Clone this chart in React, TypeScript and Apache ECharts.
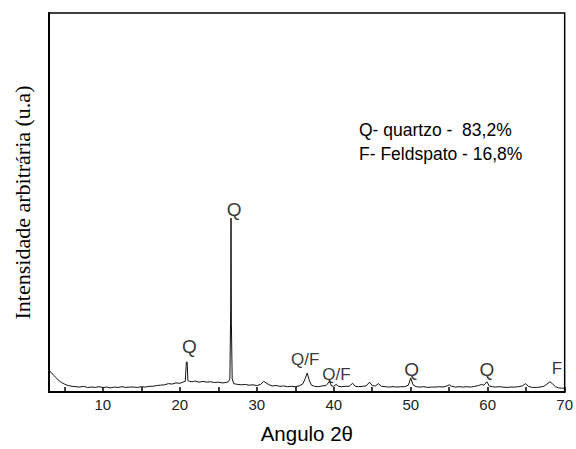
import React, { useEffect, useRef } from "react";
import * as echarts from "echarts";

// 2θ scan (degrees)
const scanAngle = [
  3.0, 3.3, 3.6, 3.9, 4.2, 4.5, 4.8, 5.1, 5.5, 6.0, 6.5, 7.0, 7.5, 8.0, 8.5, 9.0, 9.5,
  10.0, 10.5, 11.0, 11.5, 12.0, 12.5, 13.0, 13.5, 14.0, 14.5, 15.0, 15.5, 16.0, 16.5,
  17.0, 17.5, 18.0, 18.5, 19.0, 19.5, 20.0, 20.4, 20.7, 20.85, 20.95, 21.05, 21.3,
  21.6, 22.0, 22.5, 23.0, 23.5, 24.0, 24.5, 25.0, 25.5, 26.0, 26.3, 26.5, 26.6, 26.65,
  26.7, 26.8, 27.0, 27.5, 28.0, 28.5, 29.0, 29.5, 30.0, 30.5, 30.9, 31.2, 31.6, 32.0,
  32.5, 33.0, 33.5, 34.0, 34.5, 35.0, 35.5, 36.0, 36.3, 36.55, 36.8, 37.1, 37.5, 38.0,
  38.5, 39.0, 39.45, 39.7, 40.0, 40.3, 40.6, 41.0, 41.5, 42.0, 42.45, 42.8, 43.2, 43.7,
  44.2, 44.65, 45.0, 45.4, 45.8, 46.2, 46.7, 47.2, 47.7, 48.2, 48.7, 49.2, 49.7, 50.0,
  50.3, 50.7, 51.2, 51.7, 52.2, 52.7, 53.2, 53.7, 54.2, 54.7, 55.0, 55.3, 55.8, 56.3,
  56.8, 57.3, 57.8, 58.3, 58.8, 59.2, 59.5, 59.9, 60.2, 60.6, 61.0, 61.5, 62.0, 62.5,
  63.0, 63.5, 64.0, 64.5, 64.9, 65.3, 65.8, 66.3, 66.8, 67.3, 67.7, 68.1, 68.4, 68.8,
  69.2, 69.6, 70.0,
];

// Intensity (arbitrary units)
const intensity = [
  5.8, 5.1, 4.4, 3.8, 3.2, 2.7, 2.3, 2.0, 1.7, 1.5, 1.4, 1.3, 1.5, 1.2, 1.3, 1.2, 1.4,
  1.2, 1.3, 1.1, 1.3, 1.2, 1.4, 1.2, 1.3, 1.3, 1.2, 1.4, 1.3, 1.5, 1.5,
  1.7, 1.8, 1.9, 2.2, 2.1, 2.4, 2.3, 2.6, 2.8, 7.9, 7.9, 3.0, 2.8,
  2.7, 2.9, 2.6, 2.8, 2.6, 2.7, 2.5, 2.6, 2.4, 2.5, 2.7, 3.4, 20.0, 45.9,
  18.0, 3.5, 2.2, 2.0, 1.9, 2.0, 1.8, 1.9, 1.7, 2.0, 2.8, 2.4, 1.9, 1.6,
  1.7, 1.5, 1.6, 1.4, 1.5, 1.4, 1.6, 2.2, 3.6, 5.0, 3.2, 1.8, 1.5, 1.4,
  1.6, 1.7, 2.8, 1.6, 1.5, 2.0, 1.5, 1.4, 1.5, 1.5, 2.3, 1.5, 1.4, 1.5,
  1.6, 2.6, 1.7, 1.6, 2.2, 1.5, 1.4, 1.3, 1.4, 1.3, 1.4, 1.4, 1.8, 3.7,
  1.9, 1.4, 1.3, 1.4, 1.2, 1.3, 1.3, 1.4, 1.3, 1.6, 1.9, 1.5, 1.3, 1.4,
  1.3, 1.4, 1.3, 1.5, 1.7, 2.0, 1.8, 2.7, 1.6, 1.4, 1.3, 1.4, 1.3, 1.2,
  1.3, 1.3, 1.4, 1.6, 2.2, 1.5, 1.2, 1.2, 1.3, 1.5, 2.1, 2.7, 2.2, 1.4,
  1.1, 1.0, 1.0,
];

// Phase labels and the peak angles they mark
const peakLabels = ["Q", "Q", "Q/F", "Q/F", "Q", "Q", "F"];
const peakAngles = [20.85, 26.65, 36.55, 39.45, 50.0, 59.9, 68.1];

// Tick values
const xLabelValues = [10, 20, 30, 40, 50, 60, 70];
const xTickValues = [5, 10, 15, 20, 25, 30, 35, 40, 45, 50, 55, 60, 65, 70];

// Composition legend
const legendLines = ["Q- quartzo -  83,2%", "F- Feldspato - 16,8%"];

export default function App() {
  const ref = useRef<HTMLDivElement>(null);

  useEffect(() => {
    if (!ref.current) return;
    const chart = echarts.init(ref.current, undefined, { renderer: "svg" });

    const lineData = scanAngle.map((a, i) => [a, intensity[i]]);
    const peakHeight = (ang: number) => {
      let best = 0;
      scanAngle.forEach((a, i) => {
        if (Math.abs(a - ang) < 0.12 && intensity[i] > best) best = intensity[i];
      });
      return best;
    };
    const labelOffsets: number[][] = [
      [3, -16],
      [3, -9],
      [-2, -14],
      [7, -7],
      [1, -8],
      [0, -12],
      [7, -13],
    ];
    const labelSizes = [19, 19, 17, 17, 19, 19, 17];

    const peakData = peakAngles.map((a, i) => ({
      value: [a, peakHeight(a)],
      label: {
        show: true,
        formatter: peakLabels[i],
        position: "inside",
        offset: labelOffsets[i],
        fontSize: labelSizes[i],
        fontFamily: "Liberation Sans, Arial, sans-serif",
        color: "#000",
      },
    }));

    chart.setOption({
      animation: false,
      grid: {
        left: 49,
        right: 10,
        top: 13,
        bottom: 57,
        show: true,
        borderColor: "#000",
        borderWidth: 1.5,
        backgroundColor: "transparent",
      },
      xAxis: {
        type: "value",
        min: 3,
        max: 70,
        name: "Angulo 2θ",
        nameLocation: "middle",
        nameGap: 31,
        nameTextStyle: {
          fontSize: 20.5,
          fontFamily: "Liberation Sans, Arial, sans-serif",
          color: "#000",
        },
        axisLine: { show: true, onZero: false, lineStyle: { color: "#000", width: 2 } },
        axisTick: {
          show: true,
          inside: true,
          length: 5,
          customValues: xTickValues,
          lineStyle: { color: "#000", width: 1.5 },
        },
        axisLabel: {
          show: true,
          customValues: xLabelValues,
          margin: 5,
          fontSize: 15,
          fontFamily: "Liberation Sans, Arial, sans-serif",
          color: "#222",
        },
        splitLine: { show: false },
      },
      yAxis: {
        type: "value",
        min: 0,
        max: 100,
        name: "Intensidade arbitrária (u.a)",
        nameLocation: "middle",
        nameGap: 16,
        nameTextStyle: {
          fontSize: 22,
          fontFamily: "Liberation Serif, Times New Roman, serif",
          color: "#000",
        },
        axisLine: { show: true, lineStyle: { color: "#000", width: 2 } },
        axisTick: { show: false },
        axisLabel: { show: false },
        splitLine: { show: false },
      },
      graphic: legendLines.map((t, i) => ({
        type: "text",
        left: 359,
        top: 121 + i * 24,
        style: {
          text: t,
          fontSize: 17.5,
          fontFamily: "Liberation Sans, Arial, sans-serif",
          fill: "#000",
        },
      })),
      series: [
        {
          type: "line",
          data: lineData,
          showSymbol: false,
          symbol: "none",
          lineStyle: { color: "#111", width: 1 },
          silent: true,
          z: 3,
        },
        {
          type: "scatter",
          data: peakData,
          symbolSize: 0,
          silent: true,
          z: 4,
        },
      ],
    });

    return () => chart.dispose();
  }, []);

  return (
    <div
      ref={ref}
      style={{ position: "absolute", left: 0, top: 0, width: 576, height: 449 }}
    />
  );
}
